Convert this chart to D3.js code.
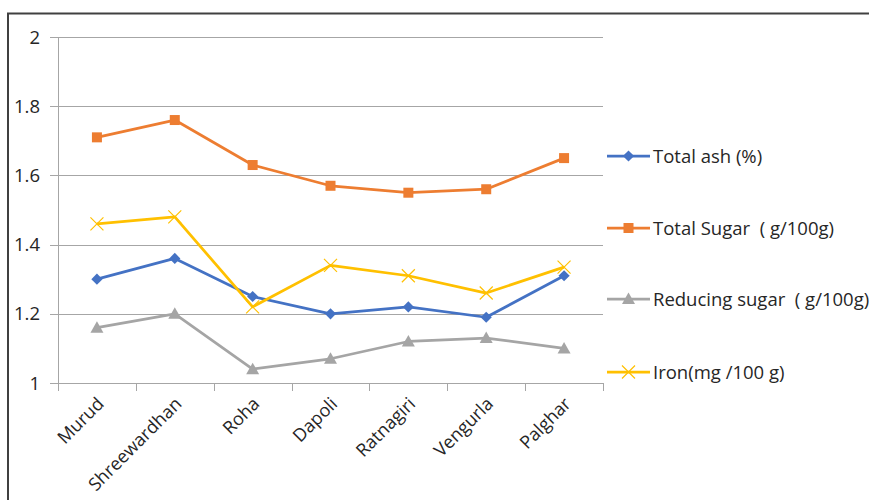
<!DOCTYPE html>
<html>
<head>
<meta charset="utf-8">
<script src="https://cdn.jsdelivr.net/npm/d3@7"></script>
<style>
  body { margin: 0; background: #fff; overflow: hidden; }
  text { font-family: "Open Sans", "Noto Sans", sans-serif; fill: #262626; white-space: pre; }
</style>
</head>
<body>
<script>
// chart data
var places = ["Murud", "Shreewardhan", "Roha", "Dapoli", "Ratnagiri", "Vengurla", "Palghar"];
var totalAsh = [1.30, 1.36, 1.25, 1.20, 1.22, 1.19, 1.31];
var totalSugar = [1.71, 1.76, 1.63, 1.57, 1.55, 1.56, 1.65];
var reducingSugar = [1.16, 1.20, 1.04, 1.07, 1.12, 1.13, 1.10];
var iron = [1.46, 1.48, 1.22, 1.34, 1.31, 1.26, 1.335];
var yTicks = [1, 1.2, 1.4, 1.6, 1.8, 2];

var seriesList = [
  { name: "Total ash (%)", values: totalAsh, color: "#4472C4", marker: "diamond" },
  { name: "Total Sugar  ( g/100g)", values: totalSugar, color: "#ED7D31", marker: "square" },
  { name: "Reducing sugar  ( g/100g)", values: reducingSugar, color: "#A5A5A5", marker: "triangle" },
  { name: "Iron(mg /100 g)", values: iron, color: "#FFC000", marker: "cross" }
];

var w = 869, h = 500;
var svg = d3.select("body").append("svg")
  .attr("width", w)
  .attr("height", h);

// outer frame (only top and left edges visible)
svg.append("path")
  .attr("d", "M8,500 V13.5 H869")
  .attr("fill", "none")
  .attr("stroke", "#404040")
  .attr("stroke-width", 2);

var plotLeft = 58, plotRight = 603, plotTop = 37, plotBottom = 383;

var x = d3.scaleBand().domain(places).range([plotLeft, plotRight]);
var y = d3.scaleLinear().domain([1, 2]).range([plotBottom, plotTop]);

// gridlines
svg.append("g")
  .selectAll("line")
  .data(yTicks.slice(1))
  .enter()
  .append("line")
  .attr("x1", plotLeft - 8)
  .attr("x2", plotRight)
  .attr("y1", function(d) { return Math.round(y(d)) + 0.5; })
  .attr("y2", function(d) { return Math.round(y(d)) + 0.5; })
  .attr("stroke", "#a6a6a6")
  .attr("stroke-width", 1);

// y axis labels
svg.append("g")
  .selectAll("text")
  .data(yTicks)
  .enter()
  .append("text")
  .attr("x", 40)
  .attr("y", function(d) { return y(d) + 6.5; })
  .attr("text-anchor", "end")
  .attr("font-size", "18.5px")
  .text(function(d) { return d3.format("~g")(d); });

// vertical axis line
svg.append("line")
  .attr("x1", plotLeft + 0.5).attr("x2", plotLeft + 0.5)
  .attr("y1", plotTop).attr("y2", plotBottom)
  .attr("stroke", "#a6a6a6");

// x axis
var xAxis = svg.append("g")
  .attr("transform", "translate(0," + (plotBottom + 0.5) + ")")
  .call(d3.axisBottom(x).tickSize(0).tickFormat(""));
xAxis.select(".domain")
  .attr("stroke", "#a6a6a6")
  .attr("d", "M" + (plotLeft - 8) + ",0H" + plotRight);

// tick marks between categories
var boundaries = places.map(function(p) { return x(p); }).concat([plotRight]);
svg.append("g")
  .selectAll("line")
  .data(boundaries)
  .enter()
  .append("line")
  .attr("x1", function(d) { return Math.round(d) + 0.5; })
  .attr("x2", function(d) { return Math.round(d) + 0.5; })
  .attr("y1", plotBottom)
  .attr("y2", plotBottom + 8)
  .attr("stroke", "#a6a6a6");

// category labels, rotated
svg.append("g")
  .selectAll("text")
  .data(places)
  .enter()
  .append("text")
  .attr("transform", function(d) {
    return "translate(" + (x(d) + x.bandwidth() / 2 + 8) + "," + (plotBottom + 22) + ") rotate(-45)";
  })
  .attr("text-anchor", "end")
  .attr("font-size", "18px")
  .text(function(d) { return d; });

function drawMarker(g, type, color) {
  if (type === "diamond") {
    g.append("path").attr("d", d3.symbol().type(d3.symbolDiamond2).size(80)())
      .attr("fill", color);
  } else if (type === "square") {
    g.append("rect").attr("x", -5).attr("y", -5).attr("width", 10).attr("height", 10)
      .attr("fill", color);
  } else if (type === "triangle") {
    g.append("path").attr("d", "M0,-6.5L6.5,5L-6.5,5Z").attr("fill", color);
  } else {
    g.append("path").attr("d", "M-6.5,-6.5L6.5,6.5M-6.5,6.5L6.5,-6.5")
      .attr("stroke", color).attr("stroke-width", 1.2).attr("fill", "none");
  }
}

var line = d3.line()
  .x(function(d, i) { return x(places[i]) + x.bandwidth() / 2; })
  .y(function(d) { return y(d); });

seriesList.forEach(function(s) {
  svg.append("path")
    .datum(s.values)
    .attr("d", line)
    .attr("fill", "none")
    .attr("stroke", s.color)
    .attr("stroke-width", 2.75)
    .attr("stroke-linejoin", "round");

  s.values.forEach(function(v, i) {
    var g = svg.append("g")
      .attr("transform", "translate(" + (x(places[i]) + x.bandwidth() / 2) + "," + y(v) + ")");
    drawMarker(g, s.marker, s.color);
  });
});

// legend
var legendY = [156, 228, 299, 372];
seriesList.forEach(function(s, i) {
  var g = svg.append("g").attr("transform", "translate(607," + legendY[i] + ")");
  g.append("line")
    .attr("x1", 0).attr("x2", 43)
    .attr("stroke", s.color)
    .attr("stroke-width", 2.75);
  var m = g.append("g").attr("transform", "translate(21.5,0)");
  drawMarker(m, s.marker, s.color);
  g.append("text")
    .attr("x", 46)
    .attr("y", 6.5)
    .attr("font-size", "18.5px")
    .text(s.name);
});
</script>
</body>
</html>
